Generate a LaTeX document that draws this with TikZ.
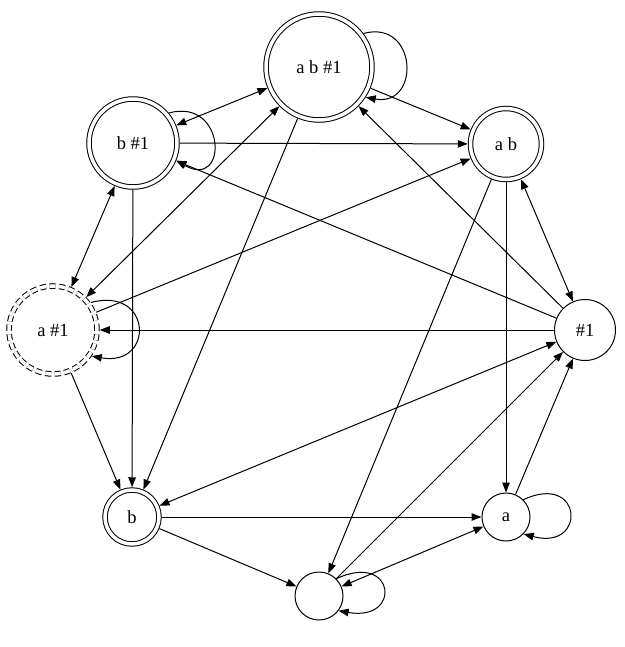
\documentclass[tikz,border=0pt]{standalone}
\usepackage{fontspec}
\setmainfont{Liberation Serif}
\usetikzlibrary{arrows.meta}

\begin{document}
\begin{tikzpicture}[x=1pt, y=1pt, >={Triangle[length=10pt,width=7.5pt]}, line width=1pt,
  state/.style={circle, draw, inner sep=0pt, font=\fontsize{18.5}{20}\selectfont},
  final/.style={state, double, double distance=3.5pt, outer sep=2.75pt}]
\useasboundingbox (0,0) rectangle (624,-647);
% states
\node[final, minimum size=106pt] (abh) at (319,-67) {a b \#1};
\node[final, minimum size=88pt] (bh) at (133,-143) {b \#1};
\node[final, minimum size=71pt] (ab) at (506,-144) {a b};
\node[final, dash pattern=on 6pt off 3.5pt, minimum size=88pt] (ah) at (53,-330) {a \#1};
\node[state, minimum size=61pt] (h) at (585,-330) {\#1};
\node[final, minimum size=54pt] (b) at (132,-517) {b};
\node[state, minimum size=48pt] (a) at (506,-517) {a};
\node[state, minimum size=48pt] (e) at (319,-596) {};
% loops
\draw[->] (abh.37) to[out=15,in=-10,distance=56pt] (abh.-33);
\draw[->] (bh.40) to[out=15,in=-30,distance=60pt] (bh.-22);
\draw[->] (ah.36) to[out=15,in=-10,distance=64pt] (ah.-34);
\draw[->] (a.45) to[out=25,in=-15,distance=66pt] (a.-44);
\draw[->] (e.45) to[out=25,in=-10,distance=65pt] (e.-37);
% transitions
\draw[->] (abh) -- (ab);
\draw[->] (abh) -- (b);
\draw[<->] (abh) -- (bh);
\draw[<->] (abh) -- (ah);
\draw[->] (h) -- (abh);
\draw[->] (bh) -- (ab);
\draw[->] (bh) -- (b);
\draw[<->] (bh) -- (ah);
\draw[->] (h) -- (bh);
\draw[->] (ab) -- (a);
\draw[->] (ab) -- (e);
\draw[<->] (ab) -- (h);
\draw[->] (ah) -- (ab);
\draw[->] (ah) -- (b);
\draw[->] (h) -- (ah);
\draw[<->] (h) -- (b);
\draw[->] (a) -- (h);
\draw[->] (e) -- (h);
\draw[->] (b) -- (a);
\draw[->] (b) -- (e);
\draw[<->] (a) -- (e);
\end{tikzpicture}
\end{document}
